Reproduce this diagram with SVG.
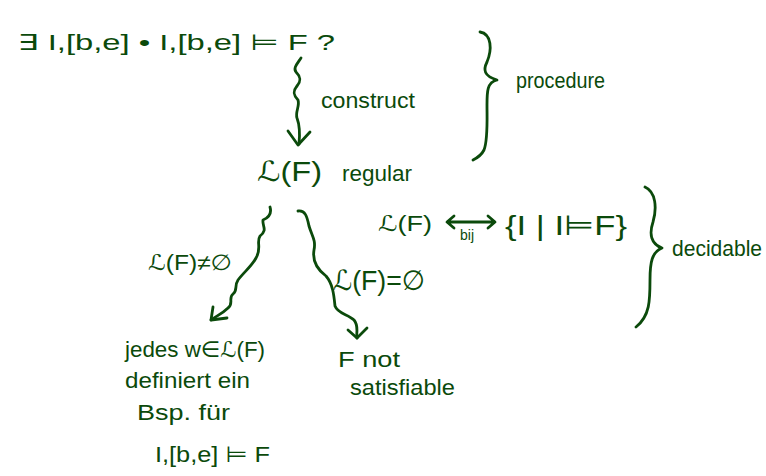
<svg xmlns="http://www.w3.org/2000/svg" width="766" height="476" viewBox="0 0 766 476">
<style>
text{font-family:"Liberation Sans","DejaVu Sans",sans-serif;fill:#0b4a0b;font-size:22px}
.s{font-size:14px}
.b{font-size:28px}
.ln{fill:none;stroke:#0b4a0b;stroke-width:2.8;stroke-linecap:round;stroke-linejoin:round}
</style>
<rect width="766" height="476" fill="#ffffff"/>
<g id="question"><text x="18" y="50" textLength="317" lengthAdjust="spacingAndGlyphs">∃ I,[b,e] • I,[b,e] ⊨ F ?</text></g>
<g id="construct-label"><text x="321" y="108" textLength="94" lengthAdjust="spacingAndGlyphs">construct</text></g>
<g id="procedure"><text x="516" y="88" textLength="89" lengthAdjust="spacingAndGlyphs">procedure</text></g>
<g id="regular"><text class="b" x="257" y="181" textLength="65" lengthAdjust="spacingAndGlyphs">ℒ(F)</text><text x="342" y="181" textLength="70" lengthAdjust="spacingAndGlyphs">regular</text></g>
<g id="bijection"><text x="378" y="231" textLength="54" lengthAdjust="spacingAndGlyphs">ℒ(F)</text><text class="b" x="505" y="235" textLength="122" lengthAdjust="spacingAndGlyphs">{I | I⊨F}</text><text class="s" x="460" y="240">bij</text></g>
<g id="decidable"><text x="672" y="256" textLength="90" lengthAdjust="spacingAndGlyphs">decidable</text></g>
<g id="nonempty-label"><text x="148" y="270" textLength="84" lengthAdjust="spacingAndGlyphs">ℒ(F)≠∅</text></g>
<g id="empty-label"><text class="b" x="333" y="290" textLength="92" lengthAdjust="spacingAndGlyphs">ℒ(F)=∅</text></g>
<g id="jedes"><text x="125" y="357" textLength="140" lengthAdjust="spacingAndGlyphs">jedes w∈ℒ(F)</text><text x="125" y="388" textLength="125" lengthAdjust="spacingAndGlyphs">definiert ein</text><text x="137" y="420" textLength="93" lengthAdjust="spacingAndGlyphs">Bsp. für</text><text x="155" y="462" textLength="115" lengthAdjust="spacingAndGlyphs">I,[b,e] ⊨ F</text></g>
<g id="notsat"><text x="338" y="367" textLength="62" lengthAdjust="spacingAndGlyphs">F not</text><text x="350" y="395" textLength="105" lengthAdjust="spacingAndGlyphs">satisfiable</text></g>
<g id="connectors">
<path class="ln" d="M301,58 C297,64 293,68 296,72 C300,76 302,80 297,86 C292,92 294,96 298,100 C300,106 295,112 297,118 C300,126 300,134 299,144"/>
<path class="ln" d="M288,131 L298,145 L310,132"/>
<path class="ln" d="M270,207 C272,214 268,218 263,220 C262,226 268,230 260,236 C256,242 262,248 256,258 C252,266 244,272 238,280 C234,286 238,290 233,294 C228,298 234,304 228,308 C222,314 216,316 211,320"/>
<path class="ln" d="M213,307 L211,320 L227,318"/>
<path class="ln" d="M298,211 C305,210 307,216 309,226 C312,236 316,240 314,250 C312,262 318,270 326,276 C333,284 334,296 335,306 C338,314 348,314 354,320 C359,326 356,332 357,338"/>
<path class="ln" d="M348,330 L357,338 L367,328"/>
<path class="ln" d="M480,32 C492,34 492,50 487,62 C483,70 484,76 497,80 C487,82 487,92 487,105 C487,120 488,140 484,150 C481,156 477,158 473,160"/>
<path class="ln" d="M645,187 C656,192 657,208 653,222 C649,234 651,244 662,248 C652,252 650,262 650,280 C650,300 650,316 636,327"/>
<path class="ln" d="M448,222 L494,222 M454,216 L447,222 L454,228 M488,216 L495,222 L488,228"/>
</g>
</svg>
